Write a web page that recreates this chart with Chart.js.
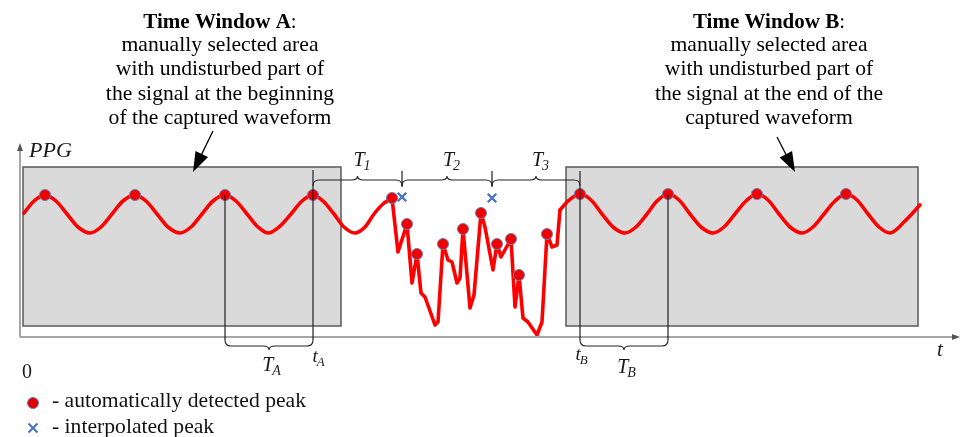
<!DOCTYPE html>
<html>
<head>
<meta charset="utf-8">
<script src="https://cdn.jsdelivr.net/npm/chart.js@4.4.1/dist/chart.umd.min.js"></script>
<style>
  body { margin: 0; background: #fff; }
  canvas { display: block; }
</style>
</head>
<body>
<canvas id="ppgChart" width="961" height="437"></canvas>
<script>
// undisturbed signal, window A (time, amplitude)
var waveAX = [4, 14, 25, 36, 47, 58, 70, 81, 92, 103, 115, 126, 137, 148, 160, 171, 182, 193, 205, 216, 227, 238, 248, 259, 271, 282, 293, 303, 314, 324, 335, 345, 354, 363, 372];
var waveAY = [123, 135, 141, 135, 122, 109, 103, 109, 122, 135, 141, 135, 122, 109, 103, 109, 122, 135, 141, 135, 122, 109, 103, 109, 122, 135, 141, 135, 122, 109, 103, 109, 122, 132, 138];

// disturbed part between windows
var waveDX = [372, 378, 387, 392, 397, 401, 405, 415, 418, 423, 428, 432, 437, 440, 443, 450, 454, 461, 465, 473, 477, 481, 491, 495, 499, 503, 508, 517, 522, 527, 532, 537, 540];
var waveDY = [138, 84, 112, 53, 82, 43, 39, 11, 14, 92, 76, 74, 53, 58, 107, 28, 41, 123, 109, 66, 92, 79, 97, 29, 61, 18, 14, 1, 14, 102, 89, 91, 126];

// undisturbed signal, window B
var waveBX = [540, 548, 560, 571, 582, 593, 605, 616, 627, 637, 648, 659, 670, 681, 693, 704, 715, 726, 737, 748, 759, 770, 782, 793, 804, 815, 826, 837, 848, 859, 870, 885, 900];
var waveBY = [126, 135, 142, 136, 122, 109, 103, 109, 122, 135, 142, 136, 122, 109, 103, 109, 122, 135, 142, 136, 122, 109, 103, 109, 122, 135, 142, 136, 122, 109, 103, 115, 131];

// automatically detected peaks
var peakX = [25, 115, 205, 293, 372, 387, 397, 423, 443, 461, 477, 491, 499, 527, 560, 648, 737, 826];
var peakY = [141, 141, 141, 141, 138, 112, 82, 92, 107, 123, 92, 97, 61, 102, 142, 142, 142, 142];

// interpolated peaks
var interpX = [382, 472];
var interpY = [139, 138];

// time windows and marks
var windowA = [3, 321];
var windowB = [546, 898];
var tA = 293, TAstart = 205;
var tB = 560, TBend = 648;

function pts(xs, ys) {
    return xs.map(function (x, i) { return {x: x, y: ys[i]}; });
}

var serif = '"Liberation Serif", "Times New Roman", serif';

function brace(ctx, x1, x2, y0, d) {
    var r = 6, xm = (x1 + x2) / 2;
    ctx.beginPath();
    ctx.moveTo(x1, y0);
    ctx.quadraticCurveTo(x1, y0 + d * r, x1 + r, y0 + d * r);
    ctx.lineTo(xm - r, y0 + d * r);
    ctx.quadraticCurveTo(xm, y0 + d * r, xm, y0 + d * (r + 4));
    ctx.quadraticCurveTo(xm, y0 + d * r, xm + r, y0 + d * r);
    ctx.lineTo(x2 - r, y0 + d * r);
    ctx.quadraticCurveTo(x2, y0 + d * r, x2, y0);
    ctx.stroke();
}

function arrow(ctx, x1, y1, x2, y2) {
    var a = Math.atan2(y2 - y1, x2 - x1), L = 20, w = 7;
    ctx.beginPath();
    ctx.moveTo(x1, y1);
    ctx.lineTo(x2 - Math.cos(a) * L * 0.8, y2 - Math.sin(a) * L * 0.8);
    ctx.stroke();
    ctx.beginPath();
    ctx.moveTo(x2, y2);
    ctx.lineTo(x2 - Math.cos(a) * L + Math.sin(a) * w, y2 - Math.sin(a) * L - Math.cos(a) * w);
    ctx.lineTo(x2 - Math.cos(a) * L - Math.sin(a) * w, y2 - Math.sin(a) * L + Math.cos(a) * w);
    ctx.closePath();
    ctx.fill();
}

// letter with subscript, italic
function sub(ctx, main, s, x, y, size) {
    ctx.font = 'italic ' + size + 'px ' + serif;
    var w1 = ctx.measureText(main).width;
    ctx.font = 'italic ' + Math.round(size * 0.7) + 'px ' + serif;
    var w2 = ctx.measureText(s).width;
    var x0 = x - (w1 + w2) / 2;
    ctx.textAlign = 'left';
    ctx.font = 'italic ' + size + 'px ' + serif;
    ctx.fillText(main, x0, y);
    ctx.font = 'italic ' + Math.round(size * 0.7) + 'px ' + serif;
    ctx.fillText(s, x0 + w1 - 1, y + size * 0.22);
}

// slightly widened text, like the source figure
function wide(ctx, t, x, y, align) {
    var k = 1.03;
    var w = ctx.measureText(t).width * k;
    var x0 = align === 'center' ? x - w / 2 : x;
    ctx.save();
    ctx.textAlign = 'left';
    ctx.translate(x0, y);
    ctx.scale(k, 1);
    ctx.fillText(t, 0, 0);
    ctx.restore();
}

function textBlock(ctx, cx, head, lines) {
    ctx.fillStyle = '#000';
    ctx.textAlign = 'left';
    ctx.font = 'bold 21px ' + serif;
    var wb = ctx.measureText(head).width;
    ctx.font = '21px ' + serif;
    var wc = ctx.measureText(':').width;
    var x0 = cx - (wb + wc) / 2;
    ctx.font = 'bold 21px ' + serif;
    ctx.fillText(head, x0, 28);
    ctx.font = '21px ' + serif;
    ctx.fillText(':', x0 + wb, 28);
    lines.forEach(function (t, i) { wide(ctx, t, cx, 51 + i * 24.3, 'center'); });
}

var backdrop = {
    id: 'backdrop',
    beforeDatasetsDraw: function (chart) {
        var ctx = chart.ctx, xs = chart.scales.x, ys = chart.scales.y;
        ctx.save();
        // windows
        [windowA, windowB].forEach(function (w) {
            var x1 = xs.getPixelForValue(w[0]), x2 = xs.getPixelForValue(w[1]);
            var y1 = ys.getPixelForValue(169), y2 = ys.getPixelForValue(10);
            ctx.fillStyle = '#dadada';
            ctx.fillRect(x1, y1, x2 - x1, y2 - y1);
            ctx.strokeStyle = '#5a5a5a';
            ctx.lineWidth = 1.5;
            ctx.strokeRect(x1, y1, x2 - x1, y2 - y1);
        });
        // axes
        var ox = xs.getPixelForValue(0), oy = ys.getPixelForValue(0) + 1;
        ctx.strokeStyle = '#8a8a8a';
        ctx.fillStyle = '#555';
        ctx.lineWidth = 1.5;
        ctx.beginPath();
        ctx.moveTo(ox, oy);
        ctx.lineTo(ox, ys.top + 4);
        ctx.moveTo(ox, oy);
        ctx.lineTo(xs.right - 5, oy);
        ctx.stroke();
        ctx.beginPath();
        ctx.moveTo(ox, ys.top);
        ctx.lineTo(ox - 3, ys.top + 8);
        ctx.lineTo(ox + 3, ys.top + 8);
        ctx.closePath();
        ctx.fill();
        ctx.beginPath();
        ctx.moveTo(xs.right, oy);
        ctx.lineTo(xs.right - 8, oy - 3);
        ctx.lineTo(xs.right - 8, oy + 3);
        ctx.closePath();
        ctx.fill();
        ctx.restore();
    },
    afterDatasetsDraw: function (chart) {
        var ctx = chart.ctx, xs = chart.scales.x, ys = chart.scales.y;
        var px = function (v) { return xs.getPixelForValue(v); };
        var py = function (v) { return ys.getPixelForValue(v); };
        ctx.save();
        ctx.strokeStyle = '#222';
        ctx.lineWidth = 1.2;
        // vertical marks
        ctx.beginPath();
        ctx.moveTo(px(TAstart), py(141)); ctx.lineTo(px(TAstart), py(-4));
        ctx.moveTo(px(tA), py(166)); ctx.lineTo(px(tA), py(-4));
        ctx.moveTo(px(tB), py(165)); ctx.lineTo(px(tB), py(-4));
        ctx.moveTo(px(TBend), py(142)); ctx.lineTo(px(TBend), py(-4));
        interpX.forEach(function (v) {
            ctx.moveTo(px(v), py(165)); ctx.lineTo(px(v), py(149));
        });
        ctx.stroke();
        // braces
        ctx.lineWidth = 1.1;
        brace(ctx, px(tA), px(interpX[0]), py(150), -1);
        brace(ctx, px(interpX[0]), px(interpX[1]), py(150), -1);
        brace(ctx, px(interpX[1]), px(tB), py(150), -1);
        brace(ctx, px(TAstart), px(tA), py(-4), 1);
        brace(ctx, px(tB), px(TBend), py(-4), 1);

        // labels
        ctx.fillStyle = '#1a1a1a';
        ctx.textBaseline = 'alphabetic';
        sub(ctx, 'T', '1', (px(tA) + px(interpX[0])) / 2 + 5, 166, 20);
        sub(ctx, 'T', '2', (px(interpX[0]) + px(interpX[1])) / 2 + 5, 166, 20);
        sub(ctx, 'T', '3', (px(interpX[1]) + px(tB)) / 2 + 5, 166, 20);
        sub(ctx, 'T', 'A', (px(TAstart) + px(tA)) / 2 + 3, 371, 20);
        sub(ctx, 't', 'A', px(tA) + 6, 362, 19);
        sub(ctx, 't', 'B', px(tB) + 2, 360, 19);
        sub(ctx, 'T', 'B', (px(tB) + px(TBend)) / 2 + 3, 373, 20);

        ctx.textAlign = 'left';
        ctx.font = 'italic 22px ' + serif;
        ctx.fillText('PPG', 29, 157);
        ctx.font = 'italic 21px ' + serif;
        ctx.fillText('t', 937, 356);
        ctx.font = '20px ' + serif;
        ctx.fillText('0', 22, 378);

        // descriptions
        textBlock(ctx, 220, 'Time Window A', ['manually selected area', 'with undisturbed part of',
            'the signal at the beginning', 'of the captured waveform']);
        textBlock(ctx, 769, 'Time Window B', ['manually selected area', 'with undisturbed part of',
            'the signal at the end of the', 'captured waveform']);
        ctx.fillStyle = '#000';
        ctx.strokeStyle = '#000';
        ctx.lineWidth = 1.3;
        arrow(ctx, 213, 131, 193, 172);
        arrow(ctx, 777, 137, 795, 172);

        // legend
        ctx.fillStyle = '#e00000';
        ctx.strokeStyle = '#6a7bb5';
        ctx.lineWidth = 1;
        ctx.beginPath();
        ctx.arc(33, 403, 5.5, 0, Math.PI * 2);
        ctx.fill();
        ctx.stroke();
        ctx.strokeStyle = '#4a74c0';
        ctx.lineWidth = 2.2;
        ctx.beginPath();
        ctx.moveTo(28.5, 423.5); ctx.lineTo(37.5, 432.5);
        ctx.moveTo(37.5, 423.5); ctx.lineTo(28.5, 432.5);
        ctx.stroke();
        ctx.fillStyle = '#111';
        ctx.font = '21px ' + serif;
        wide(ctx, '- automatically detected peak', 52, 407, 'left');
        wide(ctx, '- interpolated peak', 52, 433, 'left');
        ctx.restore();
    }
};

var lineStyle = {
    borderColor: '#ff0000',
    borderWidth: 3.6,
    pointRadius: 0,
    fill: false,
    borderCapStyle: 'round',
    borderJoinStyle: 'round'
};

var ctx1 = document.getElementById('ppgChart').getContext('2d');
new Chart(ctx1, {
    type: 'line',
    data: {
        datasets: [
            Object.assign({label: 'Window A', data: pts(waveAX, waveAY), cubicInterpolationMode: 'monotone', order: 3}, lineStyle),
            Object.assign({label: 'Disturbed', data: pts(waveDX, waveDY), tension: 0, order: 3}, lineStyle),
            Object.assign({label: 'Window B', data: pts(waveBX, waveBY), cubicInterpolationMode: 'monotone', order: 3}, lineStyle),
            {
                label: 'automatically detected peak',
                data: pts(peakX, peakY),
                showLine: false,
                pointRadius: 5.5,
                pointBackgroundColor: '#f00000',
                pointBorderColor: '#6a7bb5',
                pointBorderWidth: 1,
                order: 1
            },
            {
                label: 'interpolated peak',
                data: pts(interpX, interpY),
                showLine: false,
                pointStyle: 'crossRot',
                pointRadius: 6,
                pointBorderColor: '#4a74c0',
                pointBorderWidth: 2.4,
                order: 1
            }
        ]
    },
    options: {
        responsive: false,
        animation: false,
        layout: {autoPadding: false, padding: {left: 20, top: 143, right: 1, bottom: 101}},
        plugins: {legend: {display: false}, tooltip: {enabled: false}},
        scales: {
            x: {type: 'linear', min: 0, max: 940, display: false},
            y: {type: 'linear', min: 0, max: 193, display: false}
        }
    },
    plugins: [backdrop]
});
</script>
</body>
</html>
